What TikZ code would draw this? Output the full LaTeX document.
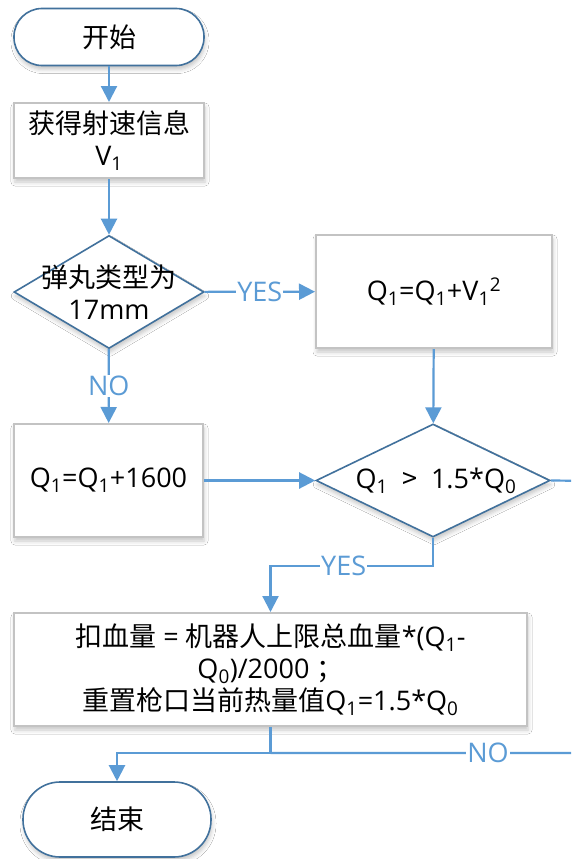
\documentclass[tikz,border=0pt]{standalone}
\usepackage{fontspec}
\setmainfont{Open Sans}
\newfontfamily\cjk{Noto Sans CJK SC}
\usetikzlibrary{shapes.geometric,arrows.meta,shadows.blur}
\definecolor{flow}{HTML}{5B9BD5}
\definecolor{edgeblue}{HTML}{41719C}
\definecolor{boxline}{HTML}{C3C3C3}
\tikzset{
  softshadow/.style={blur shadow={shadow xshift=1pt, shadow yshift=-4pt,
      shadow blur radius=4pt, shadow opacity=22}},
  term/.style={draw=edgeblue, line width=1.6pt, fill=white, softshadow},
  proc/.style={draw=boxline, line width=2pt, fill=white, softshadow},
  dia/.style={diamond, draw=edgeblue, line width=1.6pt, fill=white,
      inner sep=0pt, softshadow},
  conn/.style={draw=flow, line width=2.2pt},
  arr/.style={conn, -{Triangle[width=16pt,length=16pt]}},
  lab/.style={text=flow, fill=white, inner sep=1pt},
}
\begin{document}
\begin{tikzpicture}[x=1pt, y=-1pt, font=\fontsize{27}{32}\selectfont]
\useasboundingbox (0,0) rectangle (571,859);
\fill[white] (0,0) rectangle (571,859);
\clip (0,0) rectangle (571,859);

% blocks
\node[term, rounded corners=28pt, minimum width=190pt, minimum height=57pt]
  (start) at (109,37) {\cjk 开始};
\node[proc, minimum width=190pt, minimum height=75pt, align=center]
  (get) at (109,140.5) {{\cjk 获得射速信息}\\V\textsubscript{1}};
\node[dia, minimum width=190pt, minimum height=113pt] (type) at (109,292) {};
\node[align=center] (typetext) at (109,292) {{\cjk 弹丸类型为}\\17mm};
\node[proc, minimum width=236pt, minimum height=113pt]
  (addv) at (434,291.5) {Q\textsubscript{1}=Q\textsubscript{1}+V\textsubscript{1}\textsuperscript{2}};
\node[proc, minimum width=189pt, minimum height=113pt]
  (addc) at (108.5,480.5) {Q\textsubscript{1}=Q\textsubscript{1}+1600};
\node[dia, minimum width=234pt, minimum height=113pt] (cmp) at (433,480.5) {};
\node (cmptext) at (436,481) {Q\textsubscript{1}\ \ {\cjk >}\ \ 1.5*Q\textsubscript{0}};
\node[proc, minimum width=513pt, minimum height=113pt, align=center]
  (dmg) at (270.5,669.5)
  {{\cjk 扣血量} = {\cjk 机器人上限总血量}*(Q\textsubscript{1}-\\
   Q\textsubscript{0})/2000 {\cjk ；}\\
   {\cjk 重置枪口当前热量值}Q\textsubscript{1}=1.5*Q\textsubscript{0}};
\node[term, rounded corners=37pt, minimum width=188pt, minimum height=75pt]
  (stop) at (117,819.5) {\cjk 结束};

% connectors
\coordinate (join) at (270.5,753);
\coordinate (loop) at (600,481);
\draw[arr] (start) -- (get);
\draw[arr] (get) -- (type);
\draw[arr] (type) -- node[lab]{YES} (addv);
\draw[arr] (type) -- node[lab]{NO} (addc);
\draw[arr] (addv) -- (cmp);
\draw[arr] (addc) -- (cmp);
\draw[arr] (cmp.south) -- ++(0,28) -| node[lab, pos=0.275]{YES} (dmg.north);
\draw[conn] (cmp.east) -- (loop) |- node[lab, pos=0.67]{NO} (join);
\draw[conn] (dmg.south) -- (join);
\draw[arr] (join) -| (stop.north);
\end{tikzpicture}
\end{document}
